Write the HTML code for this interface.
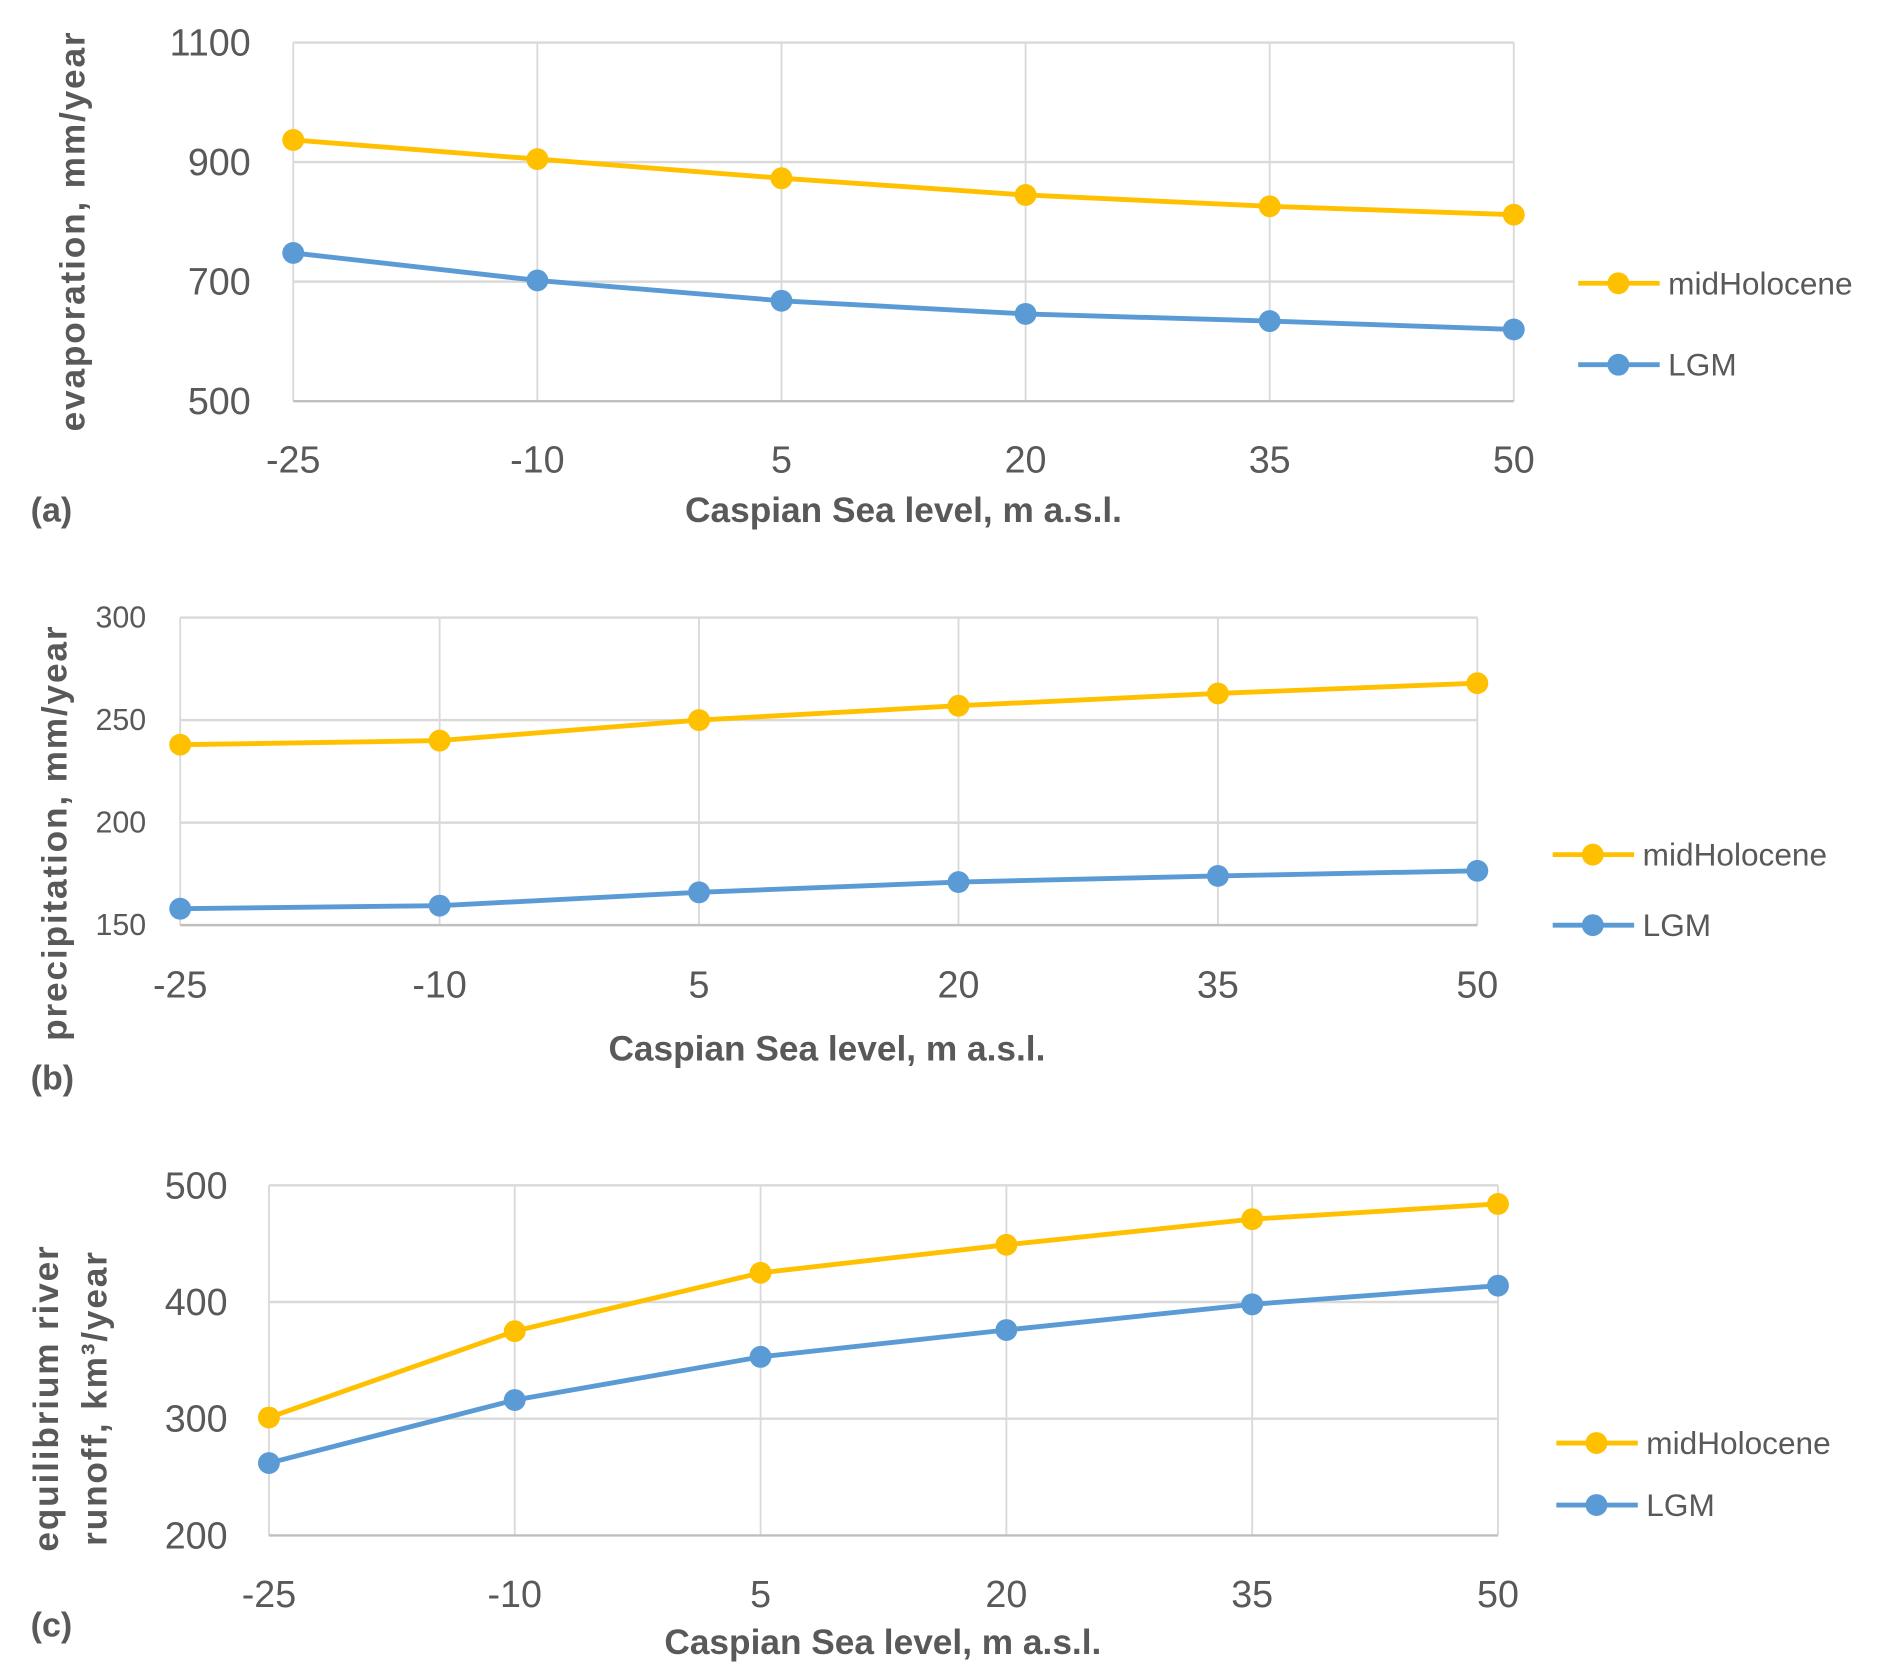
<!DOCTYPE html>
<html><head><meta charset="utf-8"><style>
html,body{margin:0;padding:0;background:#fff;}
svg{display:block;}
text{font-family:"Liberation Sans",sans-serif;fill:#595959;}
</style></head><body>
<svg id="fig" width="1897" height="1674" viewBox="0 0 1560 1377" xmlns="http://www.w3.org/2000/svg"></svg>
<script>
const categories = [-25, -10, 5, 20, 35, 50];
const seriesNames = ["midHolocene", "LGM"];
const evapMid = [937, 905, 873, 845, 826, 812];
const evapLGM = [748, 702, 668, 646, 634, 620];
const evapTicks = [500, 700, 900, 1100];
const precMid = [238, 240, 250, 257, 263, 268];
const precLGM = [158, 159.5, 166, 171, 174, 176.5];
const precTicks = [150, 200, 250, 300];
const runMid = [301, 375, 425, 449, 471, 484];
const runLGM = [262, 316, 353, 376, 398, 414];
const runTicks = [200, 300, 400, 500];

const NS = "http://www.w3.org/2000/svg";
const svg = document.getElementById('fig');
const colors = ["#FFC000", "#5B9BD5"];
function mk(tag, attrs, parent, txt){
  const e = document.createElementNS(NS, tag);
  for (const k in attrs) e.setAttribute(k, attrs[k]);
  if (txt !== undefined) e.textContent = txt;
  (parent || svg).appendChild(e);
  return e;
}
function panel(cfg){
  const g = mk('g', {});
  
  
  const x = i => cfg.x0 + (cfg.x1 - cfg.x0) * i / (categories.length - 1);
  const y = v => cfg.yb + (cfg.yt - cfg.yb) * (v - cfg.ymin) / (cfg.ymax - cfg.ymin);
  categories.forEach((c, i) => {
    const l = mk('line', {x1: x(i), x2: x(i), y1: y(cfg.ymax), y2: y(cfg.ymin), stroke: '#d9d9d9', 'stroke-width': 1.5}, g);
    
    
    const t = mk('text', {x: x(i), y: cfg.xtY, 'text-anchor': 'middle', 'dominant-baseline': 'central', 'font-size': 31}, g, String(c));
    
    
  });
  cfg.ticks.forEach((v, i) => {
    const l = mk('line', {x1: cfg.x0, x2: cfg.x1, y1: y(v), y2: y(v), stroke: i === 0 ? '#bfbfbf' : '#d9d9d9', 'stroke-width': 2}, g);
    
    
    const t = mk('text', {x: cfg.ytX, y: y(v), 'text-anchor': 'end', 'dominant-baseline': 'central', 'font-size': cfg.ytFont}, g, String(v));
    
    
  });
  [cfg.mid, cfg.lgm].forEach((arr, s) => {
    const pts = arr.map((v, i) => x(i) + ',' + y(v)).join(' ');
    const pl = mk('polyline', {points: pts, fill: 'none', stroke: colors[s], 'stroke-width': 4, 'stroke-linejoin': 'round'}, g);
    
    
    arr.forEach((v, i) => {
      const c = mk('circle', {cx: x(i), cy: y(v), r: 9, fill: colors[s]}, g);
      
      
    });
    const ly = cfg.legY[s];
    const lg = mk('g', {}, g);
    
    
    mk('line', {x1: cfg.legX, x2: cfg.legX + 67, y1: ly, y2: ly, stroke: colors[s], 'stroke-width': 4}, lg);
    mk('circle', {cx: cfg.legX + 33, cy: ly, r: 9, fill: colors[s]}, lg);
    mk('text', {x: cfg.legX + 74, y: ly, 'dominant-baseline': 'central', 'font-size': 26}, lg, seriesNames[s]);
  });
  const xt = mk('text', {x: cfg.xTitleX, y: cfg.xTitleY, 'text-anchor': 'middle', 'dominant-baseline': 'central', 'font-size': 29, 'font-weight': 'bold'}, g, 'Caspian Sea level, m a.s.l.');
  
  
  const pl = mk('text', {x: 25, y: cfg.labY, 'dominant-baseline': 'central', 'font-size': 28, 'font-weight': 'bold'}, g, cfg.label);
  
  
  cfg.yTitle.forEach((line, k) => {
    const tx = cfg.yTitleX[k];
    const t = mk('text', {x: tx, y: cfg.yTitleY, 'text-anchor': 'middle', 'dominant-baseline': 'central', 'font-size': 29, 'font-weight': 'bold', 'letter-spacing': 1.5, transform: 'rotate(-90 ' + tx + ' ' + cfg.yTitleY + ')'}, g, line);
    
    
  });
}
panel({name: 'evaporation-chart', x0: 241, x1: 1245, yt: 35, yb: 330, ymin: 500, ymax: 1100, ticks: evapTicks,
  mid: evapMid, lgm: evapLGM, xtY: 378, ytX: 206, ytFont: 31, legX: 1298, legY: [233, 300],
  xTitleX: 743, xTitleY: 420, labY: 420, label: '(a)', yTitle: ['evaporation, mm/year'], yTitleX: [60], yTitleY: 190});
panel({name: 'precipitation-chart', x0: 148, x1: 1215, yt: 508, yb: 761, ymin: 150, ymax: 300, ticks: precTicks,
  mid: precMid, lgm: precLGM, xtY: 810, ytX: 120, ytFont: 25, legX: 1277, legY: [703, 761],
  xTitleX: 680, xTitleY: 863, labY: 887, label: '(b)', yTitle: ['precipitation, mm/year'], yTitleX: [45], yTitleY: 685});
panel({name: 'runoff-chart', x0: 221, x1: 1232, yt: 975, yb: 1263, ymin: 200, ymax: 500, ticks: runTicks,
  mid: runMid, lgm: runLGM, xtY: 1311, ytX: 187, ytFont: 31, legX: 1280, legY: [1187, 1238],
  xTitleX: 726, xTitleY: 1351, labY: 1337, label: '(c)', yTitle: ['equilibrium river', 'runoff, km³/year'], yTitleX: [38, 78], yTitleY: 1150});
</script>
</body></html>
